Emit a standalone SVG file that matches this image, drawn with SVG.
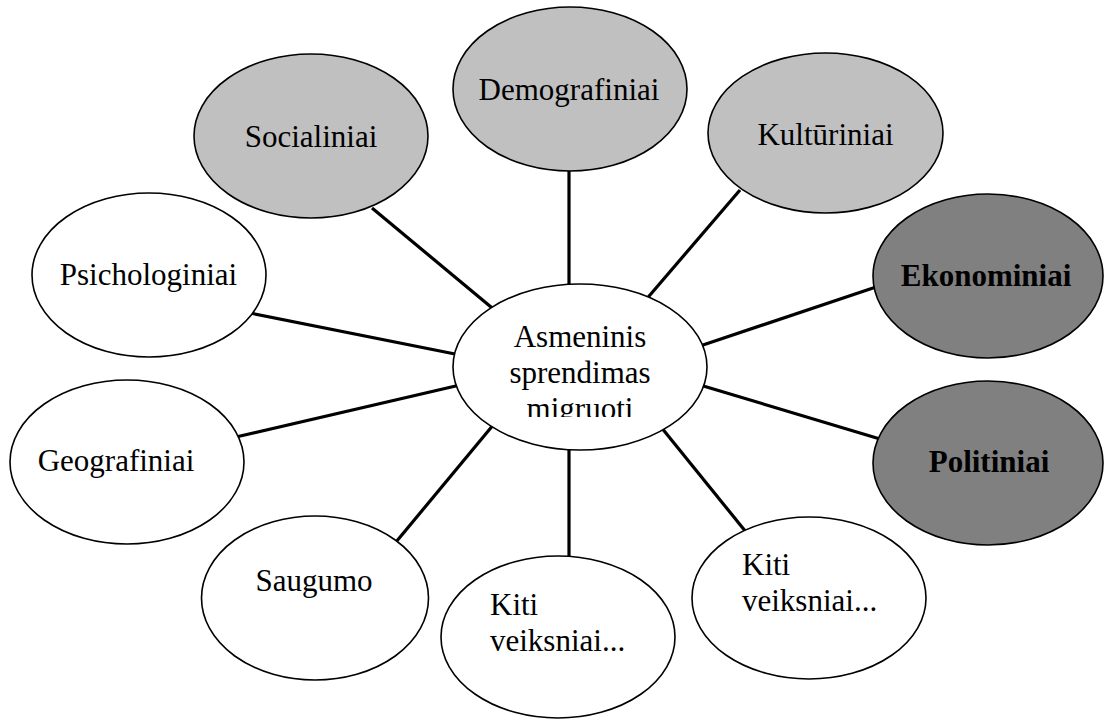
<svg xmlns="http://www.w3.org/2000/svg" width="1104" height="720" viewBox="0 0 1104 720">
<style>
.bg{fill:#ffffff}
.conn line{stroke:#000;stroke-width:3.2;stroke-linecap:butt}
ellipse{stroke:#000;stroke-width:1.6}
.white{fill:#ffffff}
.light{fill:#c0c0c0}
.dark{fill:#808080}
text{font-family:"Liberation Serif","Times New Roman",serif;font-size:31px;fill:#000}
.c{text-anchor:middle}
.b{font-weight:bold}
</style>
<defs>
<clipPath id="centerClip"><rect x="440" y="280" width="280" height="137"/></clipPath>
</defs>
<rect class="bg" x="0" y="0" width="1104" height="720"/>
<g id="connectors" class="conn">
<line x1="372" y1="208" x2="497" y2="312"/>
<line x1="569" y1="168" x2="569" y2="292"/>
<line x1="740" y1="190" x2="644" y2="302"/>
<line x1="250" y1="313" x2="460" y2="355"/>
<line x1="236" y1="437" x2="460" y2="385"/>
<line x1="876" y1="287" x2="700" y2="346"/>
<line x1="880" y1="439" x2="700" y2="385"/>
<line x1="396" y1="542" x2="494" y2="424"/>
<line x1="569" y1="446" x2="569" y2="560"/>
<line x1="661" y1="427" x2="746" y2="532"/>
</g>
<g id="node-center">
<ellipse class="white" cx="580" cy="367" rx="127" ry="83"/>
<g clip-path="url(#centerClip)">
<text class="c" x="580" y="347">Asmeninis</text>
<text class="c" x="580" y="383">sprendimas</text>
<text class="c" x="580" y="419">migruoti</text>
</g>
</g>
<g id="node-socialiniai">
<ellipse class="light" cx="311" cy="136" rx="117" ry="82"/>
<text class="c" x="311" y="147">Socialiniai</text>
</g>
<g id="node-demografiniai">
<ellipse class="light" cx="570" cy="89" rx="117" ry="82"/>
<text class="c" x="569" y="100">Demografiniai</text>
</g>
<g id="node-kulturiniai">
<ellipse class="light" cx="825.5" cy="133" rx="117.5" ry="80"/>
<text class="c" x="825.5" y="145">Kultūriniai</text>
</g>
<g id="node-ekonominiai">
<ellipse class="dark" cx="988" cy="276" rx="115" ry="82"/>
<text class="c b" x="986" y="286">Ekonominiai</text>
</g>
<g id="node-politiniai">
<ellipse class="dark" cx="988" cy="463" rx="115" ry="82"/>
<text class="c b" x="989" y="472">Politiniai</text>
</g>
<g id="node-psichologiniai">
<ellipse class="white" cx="149" cy="275" rx="117" ry="82"/>
<text class="c" x="148.5" y="285">Psichologiniai</text>
</g>
<g id="node-geografiniai">
<ellipse class="white" cx="127" cy="462" rx="117" ry="82"/>
<text class="c" x="116" y="471">Geografiniai</text>
</g>
<g id="node-saugumo">
<ellipse class="white" cx="315" cy="598" rx="113.5" ry="82"/>
<text class="c" x="314" y="591">Saugumo</text>
</g>
<g id="node-kiti1">
<ellipse class="white" cx="558" cy="637" rx="117" ry="81"/>
<text x="490" y="615">Kiti</text>
<text x="490" y="651">veiksniai...</text>
</g>
<g id="node-kiti2">
<ellipse class="white" cx="809" cy="598" rx="117" ry="81"/>
<text x="742" y="575">Kiti</text>
<text x="742" y="611">veiksniai...</text>
</g>
</svg>
